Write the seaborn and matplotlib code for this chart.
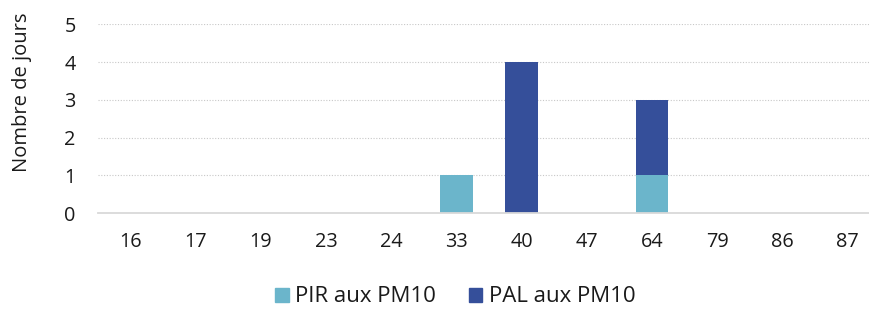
import pandas as pd
import seaborn as sns
import matplotlib.pyplot as plt
from matplotlib.patches import Patch

categories = ['16', '17', '19', '23', '24', '33', '40', '47', '64', '79', '86', '87']
pir = [0, 0, 0, 0, 0, 1, 0, 0, 1, 0, 0, 0]
pal = [0, 0, 0, 0, 0, 0, 4, 0, 2, 0, 0, 0]

PIR_COLOR = '#6bb5cb'
PAL_COLOR = '#354f9a'

df = pd.DataFrame({'cat': categories, 'pir': pir, 'pal': pal})
df['total'] = df['pir'] + df['pal']

sns.set_style('white')
plt.rcParams['font.family'] = ['Open Sans', 'DejaVu Sans']

fs = 14.3
fig = plt.figure(figsize=(8.69, 3.09), dpi=100)
# the plot area runs a little past the right edge, as in the original export
ax = fig.add_axes([0.1128, 0.3097, 0.9, 0.6117])

sns.barplot(data=df, x='cat', y='total', order=categories, color=PAL_COLOR,
            width=0.5, saturation=1, linewidth=0, ax=ax, zorder=3)
sns.barplot(data=df, x='cat', y='pir', order=categories, color=PIR_COLOR,
            width=0.5, saturation=1, linewidth=0, ax=ax, zorder=4)

ax.set_ylim(0, 5)
ax.set_xlim(-0.5, len(categories) - 0.5)
ax.set_yticks(range(0, 6))
ax.yaxis.grid(True, linestyle=(0, (1, 1.5)), color='#c8c8c8', linewidth=0.8, zorder=0)
ax.xaxis.grid(False)
for s in ['top', 'right', 'left']:
    ax.spines[s].set_visible(False)
ax.spines['bottom'].set_color('#d9d9d9')
ax.spines['bottom'].set_linewidth(1.3)
ax.spines['bottom'].set_zorder(5)
ax.tick_params(axis='both', length=0, labelsize=fs, colors='#1a1a1a')
ax.tick_params(axis='x', pad=13.5)
ax.tick_params(axis='y', pad=16)
ax.set_xlabel('')
ax.set_ylabel('Nombre de jours', fontsize=14.5, color='#1a1a1a')
ax.yaxis.set_label_coords(-0.084, 0.642)

handles = [Patch(color=PIR_COLOR, label='PIR aux PM10'),
           Patch(color=PAL_COLOR, label='PAL aux PM10')]
fig.legend(handles=handles, loc='center', bbox_to_anchor=(0.524, 0.039), ncol=2,
           frameon=False, fontsize=16, handlelength=0.6, handleheight=0.6,
           handletextpad=0.3, columnspacing=1.45, labelcolor='#1a1a1a')

fig.savefig('out.png', dpi=100)
